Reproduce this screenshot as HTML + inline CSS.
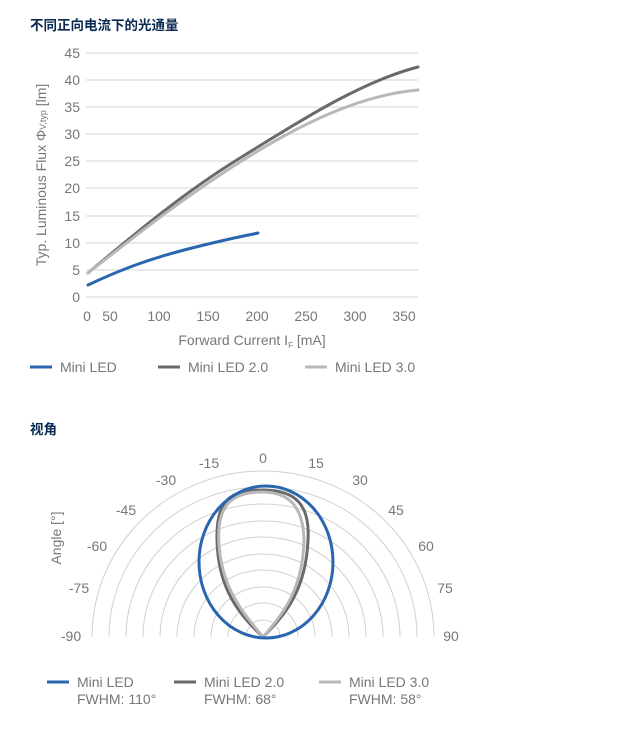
<!DOCTYPE html><html><head><meta charset="utf-8"><style>
body{margin:0;background:#fff;width:633px;height:730px;overflow:hidden}
svg{font-family:"Liberation Sans","Noto Sans CJK SC",sans-serif}
</style></head><body>
<svg width="633" height="730" viewBox="0 0 633 730">
<g font-weight="bold" fill="#0a2a52" font-size="13.5"><text x="30" y="30">不同正向电流下的光通量</text><text x="30" y="434">视角</text></g>
<g stroke="#d4d4d4" stroke-width="1">
<line x1="86" y1="53" x2="418" y2="53"/><line x1="86" y1="80" x2="418" y2="80"/><line x1="86" y1="107" x2="418" y2="107"/><line x1="86" y1="134" x2="418" y2="134"/><line x1="86" y1="161" x2="418" y2="161"/><line x1="86" y1="188" x2="418" y2="188"/><line x1="86" y1="216" x2="418" y2="216"/><line x1="86" y1="243" x2="418" y2="243"/><line x1="86" y1="270" x2="418" y2="270"/><line x1="86" y1="297" x2="418" y2="297"/></g>
<g fill="#777" font-size="14" text-anchor="end">
<text x="80" y="58">45</text><text x="80" y="85">40</text><text x="80" y="112">35</text><text x="80" y="139">30</text><text x="80" y="166">25</text><text x="80" y="193">20</text><text x="80" y="221">15</text><text x="80" y="248">10</text><text x="80" y="275">5</text><text x="80" y="302">0</text></g>
<g fill="#777" font-size="14" text-anchor="middle">
<text x="87" y="321">0</text><text x="110" y="321">50</text><text x="159" y="321">100</text><text x="208" y="321">150</text><text x="257" y="321">200</text><text x="306" y="321">250</text><text x="355" y="321">300</text><text x="404" y="321">350</text>
<text x="252" y="345">Forward Current I<tspan font-size="8" dy="3">F</tspan><tspan dy="-3"> [mA]</tspan></text></g>
<text transform="translate(46,175) rotate(-90)" text-anchor="middle" fill="#777" font-size="14">Typ. Luminous Flux Φ<tspan font-size="9">V,typ</tspan> [lm]</text>
<g fill="none" stroke-width="3" stroke-linecap="round">
<path d="M88,273 C130,238 180,195 240,158 S360,82 418,67" stroke="#6a6a6a"/>
<path d="M88,273 C130,240 180,200 240,162 S360,95 418,90" stroke="#b8b8b8"/>
<path d="M88,285 C120,270 150,258 200,246 S240,237 258,233" stroke="#2a66b0"/></g>
<g font-size="14" fill="#777">
<line x1="30" y1="367" x2="52" y2="367" stroke="#2a66b0" stroke-width="3"/><text x="60" y="372">Mini LED</text>
<line x1="158" y1="367" x2="180" y2="367" stroke="#6a6a6a" stroke-width="3"/><text x="188" y="372">Mini LED 2.0</text>
<line x1="305" y1="367" x2="327" y2="367" stroke="#b8b8b8" stroke-width="3"/><text x="335" y="372">Mini LED 3.0</text></g>
<g fill="none" stroke="#d0d0d0" stroke-width="1">
<path d="M92,637 A171,166 0 0 1 434,637"/><path d="M109,637 A154,150 0 0 1 417,637"/><path d="M126,637 A137,133 0 0 1 400,637"/><path d="M143,637 A120,116 0 0 1 383,637"/><path d="M160,637 A103,100 0 0 1 366,637"/><path d="M177,637 A86,83 0 0 1 349,637"/><path d="M194,637 A69,67 0 0 1 332,637"/><path d="M211,637 A52,50 0 0 1 315,637"/><path d="M228,637 A35,34 0 0 1 298,637"/><path d="M246,637 A17,17 0 0 1 280,637"/></g>
<g fill="#777" font-size="14" text-anchor="middle">
<text x="263" y="463">0</text><text x="209" y="468">-15</text><text x="316" y="468">15</text><text x="166" y="485">-30</text><text x="360" y="485">30</text><text x="126" y="515">-45</text><text x="396" y="515">45</text><text x="97" y="551">-60</text><text x="426" y="551">60</text><text x="79" y="593">-75</text><text x="445" y="593">75</text><text x="71" y="641">-90</text><text x="451" y="641">90</text></g>
<text transform="translate(61,538) rotate(-90)" text-anchor="middle" fill="#777" font-size="14">Angle [°]</text>
<g fill="none" stroke-width="3">
<path d="M263,637 C240,615 218,590 217,540 C216,500 230,490 263,490 C296,490 310,505 308,540 C306,590 285,615 263,637Z" stroke="#6a6a6a"/>
<path d="M263,637 C245,615 222,590 219,545 C216,505 232,492 262,492 C288,492 303,505 304,540 C303,590 282,615 263,637Z" stroke="#b8b8b8"/>
<ellipse cx="266" cy="562" rx="67" ry="76" stroke="#2a66b0"/></g>
<g font-size="14" fill="#777">
<line x1="47" y1="682" x2="69" y2="682" stroke="#2a66b0" stroke-width="3"/><text x="77" y="687">Mini LED</text><text x="77" y="704">FWHM: 110°</text>
<line x1="174" y1="682" x2="196" y2="682" stroke="#6a6a6a" stroke-width="3"/><text x="204" y="687">Mini LED 2.0</text><text x="204" y="704">FWHM: 68°</text>
<line x1="319" y1="682" x2="341" y2="682" stroke="#b8b8b8" stroke-width="3"/><text x="349" y="687">Mini LED 3.0</text><text x="349" y="704">FWHM: 58°</text></g>
</svg></body></html>
